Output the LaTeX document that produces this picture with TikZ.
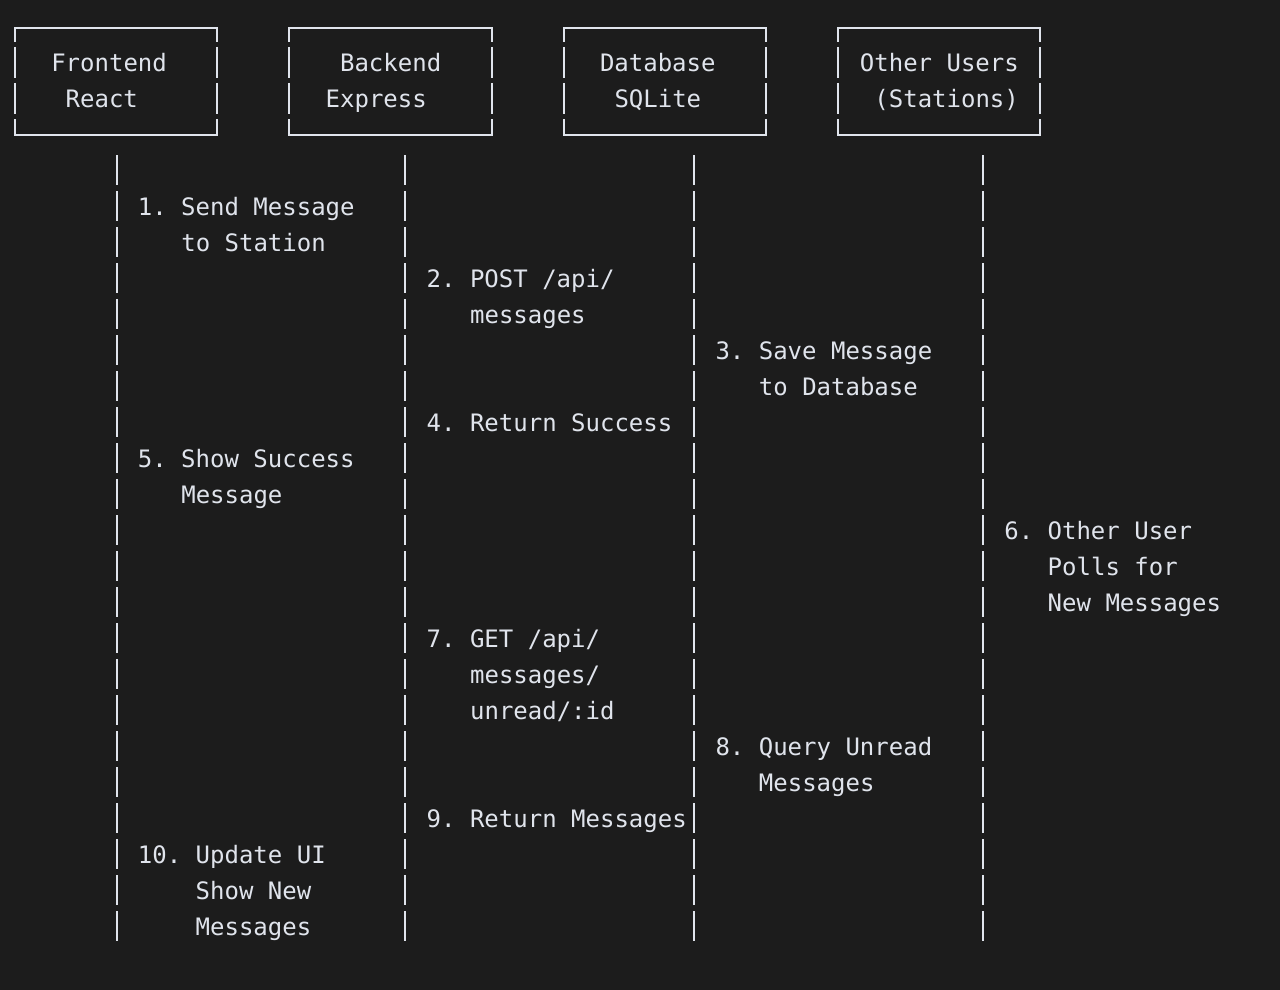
\documentclass[tikz,border=0pt]{standalone}
\usepackage{fontspec}
\setmonofont{DejaVu Sans Mono}
\usepackage{tikz}
\usetikzlibrary{calc}
\definecolor{termbg}{RGB}{28,28,28}
\definecolor{termfg}{RGB}{224,228,236}
\tikzset{
	border/.style={line width=2pt, color=termfg},
	lifeline/.style={line width=2pt, color=termfg, dash pattern=on 30pt off 6pt},
	txt/.style={anchor=base west, inner sep=0pt, color=termfg, font=\ttfamily\fontsize{24}{36}\selectfont}
}
\def\termbox(#1,#2){%
	\draw[border] (#1,42) -- (#1,28) -- (#2,28) -- (#2,42);
	\draw[border] (#1,47) -- (#1,78) (#1,83) -- (#1,114) (#2,47) -- (#2,78) (#2,83) -- (#2,114);
	\draw[border] (#1,119) -- (#1,135) -- (#2,135) -- (#2,119);}

\begin{document}
\begin{tikzpicture}[x=1pt, y=-1pt]
		%%%%% START %%%%%
		
		\fill[termbg] (0, 0) rectangle (1280, 990);
		\useasboundingbox (0, 0) rectangle (1280, 990);
		
		\termbox(15,217.2)
		\termbox(289.4,491.6)
		\termbox(563.7,765.9)
		\termbox(838.1,1040.2)
		
		\node[txt] (fe) at (51.1, 71) {Frontend};
		\node[txt] (fe2) at (65.5, 107) {React};
		\node[txt] (be) at (339.9, 71) {Backend};
		\node[txt] (be2) at (325.5, 107) {Express};
		\node[txt] (db) at (599.8, 71) {Database};
		\node[txt] (db2) at (614.3, 107) {SQLite};
		\node[txt] (ou) at (859.7, 71) {Other Users};
		\node[txt] (ou2) at (874.2, 107) {(Stations)};
		
		\coordinate (fe top) at (116.6, 155);
		\coordinate (fe end) at (116.6, 941);
		\coordinate (be top) at (405.4, 155);
		\coordinate (be end) at (405.4, 941);
		\coordinate (db top) at (694.2, 155);
		\coordinate (db end) at (694.2, 941);
		\coordinate (ou top) at (983, 155);
		\coordinate (ou end) at (983, 941);
		
		\draw[lifeline] (fe top) -- (fe end);
		\draw[lifeline] (be top) -- (be end);
		\draw[lifeline] (db top) -- (db end);
		\draw[lifeline] (ou top) -- (ou end);
		
		\node[txt] (s1) at (137.7, 215) {1. Send Message};
		\node[txt] (s1b) at (181.1, 251) {to Station};
		\node[txt] (s2) at (426.5, 287) {2. POST /api/};
		\node[txt] (s2b) at (469.9, 323) {messages};
		\node[txt] (s3) at (715.3, 359) {3. Save Message};
		\node[txt] (s3b) at (758.7, 395) {to Database};
		\node[txt] (s4) at (426.5, 431) {4. Return Success};
		\node[txt] (s5) at (137.7, 467) {5. Show Success};
		\node[txt] (s5b) at (181.1, 503) {Message};
		\node[txt] (s6) at (1004.1, 539) {6. Other User};
		\node[txt] (s6b) at (1047.5, 575) {Polls for};
		\node[txt] (s6c) at (1047.5, 611) {New Messages};
		\node[txt] (s7) at (426.5, 647) {7. GET /api/};
		\node[txt] (s7b) at (469.9, 683) {messages/};
		\node[txt] (s7c) at (469.9, 719) {unread/:id};
		\node[txt] (s8) at (715.3, 755) {8. Query Unread};
		\node[txt] (s8b) at (758.7, 791) {Messages};
		\node[txt] (s9) at (426.5, 827) {9. Return Messages};
		\node[txt] (s10) at (137.7, 863) {10. Update UI};
		\node[txt] (s10b) at (195.5, 899) {Show New};
		\node[txt] (s10c) at (195.5, 935) {Messages};
		
		%%%%% END %%%%%
	\end{tikzpicture}
\end{document}
